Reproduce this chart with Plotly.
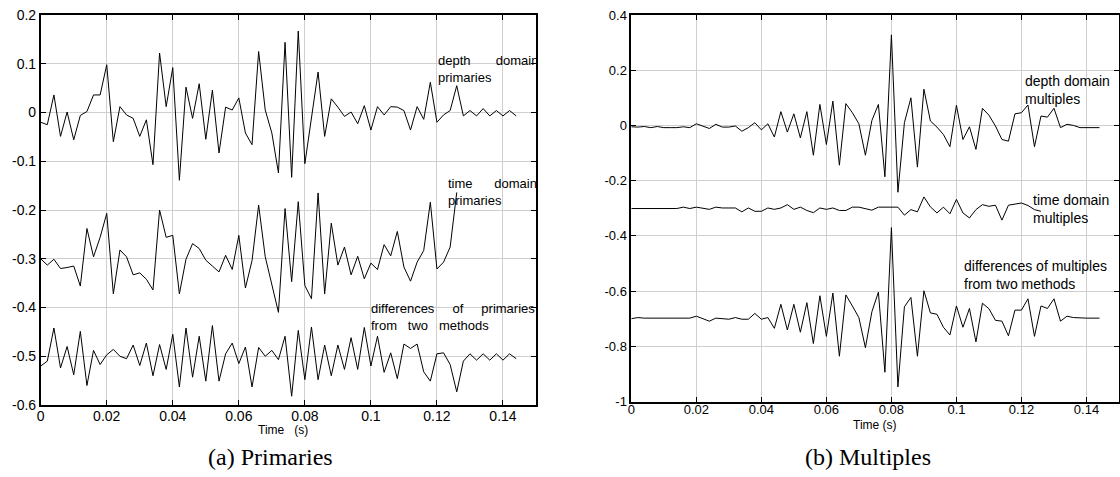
import plotly.graph_objects as go

# Sample interval and time axes (s)
dt = 0.002
n_full = 73      # 0 ... 0.144 s
n_time = 64      # 0 ... 0.126 s

# ---- (a) Primaries ----
depth_primaries = [
    -0.020, -0.025, 0.036, -0.049, 0.001, -0.056, -0.006, 0.002, 0.036, 0.036,
    0.098, -0.060, 0.012, -0.005, -0.012, -0.049, -0.015, -0.107, 0.122, 0.012,
    0.092, -0.139, 0.052, -0.012, 0.059, -0.055, 0.046, -0.083, 0.011, 0.005,
    0.030, -0.042, -0.066, 0.125, 0.005, -0.042, -0.124, 0.144, -0.133, 0.167,
    -0.105, -0.010, 0.083, -0.049, 0.028, 0.011, -0.008, 0.001, -0.023, 0.014,
    -0.036, 0.012, -0.005, 0.012, 0.011, 0.004, -0.036, 0.012, -0.014, 0.062,
    -0.020, -0.005, 0.004, 0.055, -0.007, 0.004, -0.007, 0.008, -0.007, 0.004,
    -0.007, 0.004, -0.007]

time_primaries = [
    -0.300, -0.313, -0.301, -0.320, -0.318, -0.315, -0.356, -0.238, -0.296, -0.256,
    -0.207, -0.372, -0.282, -0.296, -0.333, -0.329, -0.342, -0.364, -0.200, -0.256,
    -0.252, -0.372, -0.301, -0.269, -0.279, -0.303, -0.315, -0.327, -0.293, -0.322,
    -0.252, -0.360, -0.304, -0.190, -0.296, -0.355, -0.410, -0.197, -0.347, -0.183,
    -0.355, -0.382, -0.165, -0.372, -0.227, -0.313, -0.276, -0.333, -0.295, -0.341,
    -0.309, -0.322, -0.271, -0.294, -0.244, -0.317, -0.346, -0.307, -0.283, -0.184,
    -0.321, -0.307, -0.276, -0.164]

diff_primaries = [
    -0.520, -0.510, -0.442, -0.524, -0.480, -0.538, -0.449, -0.560, -0.488, -0.517,
    -0.497, -0.486, -0.500, -0.505, -0.477, -0.519, -0.473, -0.540, -0.476, -0.527,
    -0.455, -0.563, -0.442, -0.543, -0.459, -0.551, -0.437, -0.551, -0.495, -0.473,
    -0.515, -0.481, -0.563, -0.482, -0.500, -0.488, -0.507, -0.459, -0.582, -0.447,
    -0.548, -0.440, -0.548, -0.477, -0.540, -0.477, -0.527, -0.462, -0.527, -0.441,
    -0.520, -0.459, -0.533, -0.493, -0.546, -0.475, -0.484, -0.475, -0.532, -0.551,
    -0.495, -0.493, -0.517, -0.573, -0.510, -0.495, -0.508, -0.495, -0.508, -0.495,
    -0.508, -0.495, -0.505]

# ---- (b) Multiples ----
depth_multiples = [
    -0.005, -0.006, -0.004, -0.008, -0.004, -0.008, -0.008, -0.008, -0.005, -0.008,
    0.006, -0.002, -0.011, 0.004, -0.006, -0.006, -0.002, -0.021, -0.008, 0.010,
    -0.016, 0.006, -0.042, 0.050, -0.024, 0.042, -0.045, 0.050, -0.108, 0.076,
    -0.069, 0.088, -0.144, 0.079, 0.046, 0.006, -0.108, 0.018, 0.076, -0.186,
    0.328, -0.242, 0.010, 0.100, -0.151, 0.131, 0.016, -0.006, -0.033, -0.077,
    0.073, -0.051, -0.005, -0.087, 0.062, 0.037, -0.002, -0.051, -0.057, 0.042,
    0.046, 0.074, -0.077, 0.034, 0.030, 0.062, -0.008, 0.004, 0.000, -0.008,
    -0.008, -0.006, -0.008]

time_multiples = [
    -0.301, -0.301, -0.301, -0.301, -0.301, -0.301, -0.301, -0.301, -0.296, -0.301,
    -0.296, -0.299, -0.304, -0.296, -0.299, -0.299, -0.299, -0.313, -0.299, -0.311,
    -0.311, -0.299, -0.304, -0.299, -0.287, -0.304, -0.296, -0.308, -0.316, -0.299,
    -0.304, -0.299, -0.308, -0.308, -0.296, -0.296, -0.301, -0.307, -0.296, -0.296,
    -0.296, -0.296, -0.325, -0.305, -0.313, -0.259, -0.295, -0.317, -0.296, -0.320,
    -0.268, -0.317, -0.335, -0.305, -0.287, -0.293, -0.289, -0.343, -0.289, -0.284,
    -0.281, -0.290, -0.305, -0.311]

diff_multiples = [
    -0.700, -0.696, -0.698, -0.698, -0.698, -0.698, -0.698, -0.698, -0.698, -0.698,
    -0.691, -0.700, -0.709, -0.698, -0.700, -0.702, -0.696, -0.702, -0.702, -0.681,
    -0.702, -0.696, -0.735, -0.648, -0.741, -0.648, -0.749, -0.642, -0.790, -0.617,
    -0.764, -0.607, -0.836, -0.614, -0.654, -0.696, -0.805, -0.675, -0.604, -0.894,
    -0.370, -0.947, -0.657, -0.623, -0.836, -0.599, -0.679, -0.684, -0.731, -0.759,
    -0.654, -0.731, -0.663, -0.784, -0.644, -0.664, -0.706, -0.709, -0.762, -0.669,
    -0.669, -0.628, -0.764, -0.654, -0.663, -0.628, -0.709, -0.691, -0.696, -0.698,
    -0.698, -0.698, -0.698]

x_tick_vals = [0, 0.02, 0.04, 0.06, 0.08, 0.1, 0.12, 0.14]
x_tick_text = ["0", "0.02", "0.04", "0.06", "0.08", "0.1", "0.12", "0.14"]
ya_tick_vals = [0.2, 0.1, 0, -0.1, -0.2, -0.3, -0.4, -0.5, -0.6]
ya_tick_text = ["0.2", "0.1", "0", "-0.1", "-0.2", "-0.3", "-0.4", "-0.5", "-0.6"]
yb_tick_vals = [0.4, 0.2, 0, -0.2, -0.4, -0.6, -0.8, -1]
yb_tick_text = ["0.4", "0.2", "0", "-0.2", "-0.4", "-0.6", "-0.8", "-1"]

t_full = [round(i * dt, 3) for i in range(n_full)]
t_time = [round(i * dt, 3) for i in range(n_time)]

W, H = 1120, 477
SANS = "Liberation Sans, Arial, sans-serif"
SERIF = "Liberation Serif, Times New Roman, serif"
NB = "\u00a0"

fig = go.Figure()
line_style = dict(color="black", width=1)
for ys, xs, ax in [
    (depth_primaries, t_full, ("x", "y")),
    (time_primaries, t_time, ("x", "y")),
    (diff_primaries, t_full, ("x", "y")),
    (depth_multiples, t_full, ("x2", "y2")),
    (time_multiples, t_time, ("x2", "y2")),
    (diff_multiples, t_full, ("x2", "y2")),
]:
    fig.add_trace(go.Scatter(x=xs, y=ys, mode="lines", line=line_style,
                             xaxis=ax[0], yaxis=ax[1], showlegend=False,
                             hoverinfo="skip"))

def axis_common(size, standoff=0):
    return dict(showgrid=True, gridcolor="#cfcfcf", gridwidth=1,
                zeroline=False, showline=True, linecolor="black", linewidth=1.6,
                mirror="ticks", ticks="inside", ticklen=5, tickcolor="black",
                tickwidth=1, automargin=False, ticklabelstandoff=standoff,
                tickfont=dict(family=SANS, size=size, color="black"))

fig.update_layout(
    width=W, height=H,
    margin=dict(l=0, r=0, t=0, b=0),
    paper_bgcolor="white", plot_bgcolor="white",
    xaxis=dict(domain=[40.7 / W, 536 / W], range=[0, 0.15],
               tickvals=x_tick_vals, ticktext=x_tick_text, anchor="y",
               **axis_common(14, -3)),
    yaxis=dict(domain=[1 - 405 / H, 1 - 15 / H], range=[-0.6, 0.2],
               tickvals=ya_tick_vals, ticktext=ya_tick_text, anchor="x",
               **axis_common(14)),
    xaxis2=dict(domain=[631.3 / W, 1119 / W], range=[0, 0.15],
                tickvals=x_tick_vals, ticktext=x_tick_text, anchor="y2",
                **axis_common(13, -5)),
    yaxis2=dict(domain=[1 - 401.5 / H, 1 - 15 / H], range=[-1, 0.4],
                tickvals=yb_tick_vals, ticktext=yb_tick_text, anchor="x2",
                **axis_common(13)),
)

def label(text, x, y, xref, yref, size, family=SANS, xanchor="left"):
    fig.add_annotation(text=text, x=x, y=y, xref=xref, yref=yref,
                       showarrow=False, xanchor=xanchor, yanchor="middle",
                       align="left", font=dict(family=family, size=size, color="black"))

# trace labels, panel (a)
label("depth" + NB * 7 + "domain<br>primaries", 0.1196, 0.090, "x", "y", 13)
label("time" + NB * 6 + "domain<br>primaries", 0.1226, -0.1625, "x", "y", 13)
label("differences" + NB * 5 + "of" + NB * 5 + "primaries<br>from" + NB * 3 + "two"
      + NB * 3 + "methods", 0.0994, -0.4187, "x", "y", 13)

# trace labels, panel (b)
label("depth domain<br>multiples", 0.1205, 0.130, "x2", "y2", 14)
label("time domain<br>multiples", 0.1229, -0.3025, "x2", "y2", 14)
label("differences of multiples<br>from two methods", 0.1017, -0.543, "x2", "y2", 14)

# axis titles
label("Time" + NB * 3 + "(s)", 283 / W, 1 - 430 / H, "paper", "paper", 12, xanchor="center")
label("Time (s)", 875 / W, 1 - 425 / H, "paper", "paper", 12, xanchor="center")

# panel captions
label("(a) Primaries", 270 / W, 1 - 457 / H, "paper", "paper", 24, SERIF, "center")
label("(b) Multiples", 868 / W, 1 - 457 / H, "paper", "paper", 24, SERIF, "center")

fig.write_html("out.html")
